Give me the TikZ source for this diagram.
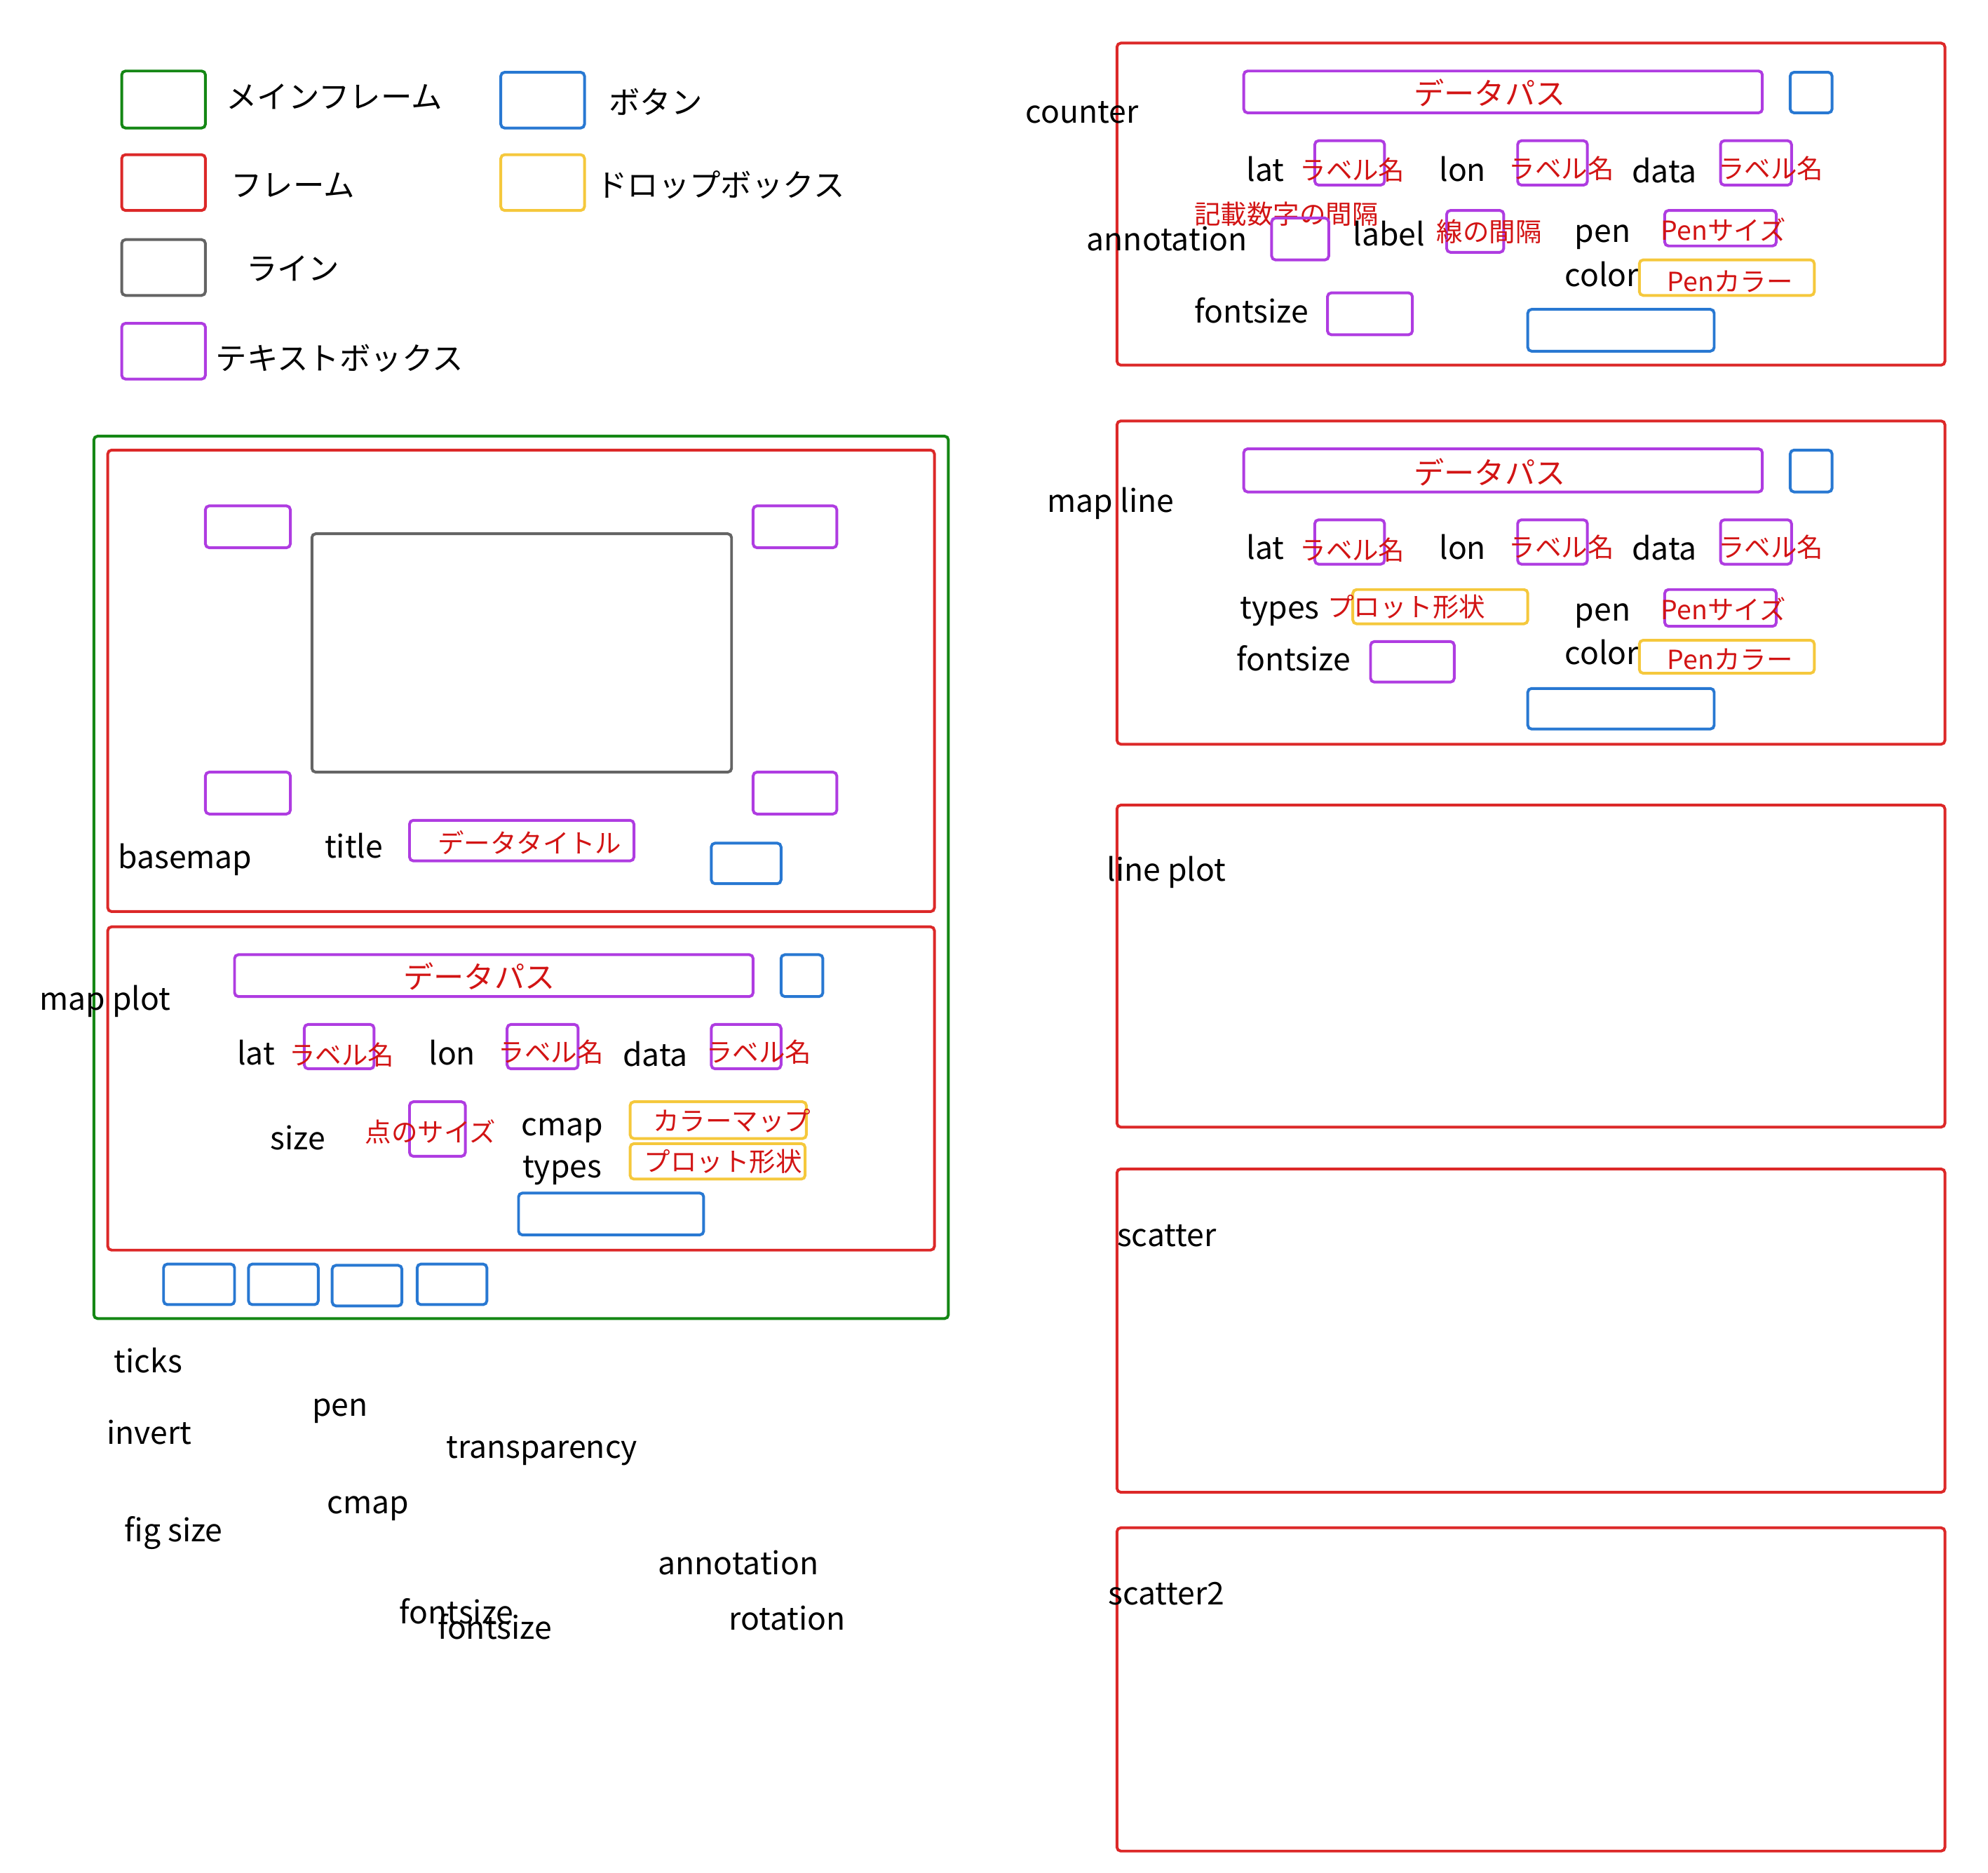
\documentclass[tikz,border=0pt]{standalone}
\usepackage{fontspec}
\setmainfont{Noto Sans CJK JP}
\definecolor{cgreen}{RGB}{20,135,20}
\definecolor{cred}{RGB}{220,40,40}
\definecolor{cblue}{RGB}{40,120,210}
\definecolor{cyellow}{RGB}{245,200,60}
\definecolor{cpurple}{RGB}{175,60,225}
\definecolor{cgray}{RGB}{100,100,100}
\definecolor{credtext}{RGB}{210,20,20}
\tikzset{
  boxbase/.style={draw, rounded corners=1.5mm, inner sep=0pt, line width=1.1mm},
  gbox/.style={boxbase, draw=cgreen},
  rbox/.style={boxbase, draw=cred},
  bbox/.style={boxbase, draw=cblue},
  ybox/.style={boxbase, draw=cyellow},
  pbox/.style={boxbase, draw=cpurple},
  kbox/.style={boxbase, draw=cgray},
  lbl/.style={anchor=mid west, inner sep=0pt, yshift=-3.5mm, font=\fontsize{35}{38}\selectfont},
  leg/.style={anchor=west, inner sep=0pt, yshift=-3.5mm, text height=0.88em, text depth=0.12em, font=\fontsize{35}{37}\selectfont},
  jr/.style={anchor=west, inner sep=0pt, yshift=-3.5mm, text height=0.88em, text depth=0.12em, text=credtext, font=\fontsize{29.5}{32}\selectfont},
  jrbig/.style={anchor=center, inner sep=0pt, yshift=-3.5mm, text height=0.88em, text depth=0.12em, text=credtext, font=\fontsize{34}{36}\selectfont},
}
\newcommand{\bx}[6]{\node[#1, minimum width={(#5-#3)*0.5mm}, minimum height={(#6-#4)*0.5mm}] (#2) at ({(#3+#5)/2},{(#4+#6)/2}) {};}
\begin{document}
\begin{tikzpicture}[x=0.5mm, y=-0.5mm]
\useasboundingbox[fill=white] (0,0) rectangle (1568,1477);
% legend
\bx{gbox}{lg}{96}{56}{162}{101}
\node[leg] (lgt) at (178,76) {メインフレーム};
\bx{bbox}{lb}{395}{57}{461}{101}
\node[leg] (lbt) at (480,80) {ボタン};
\bx{rbox}{lr}{96}{122}{162}{166}
\node[leg] (lrt) at (182,145.5) {フレーム};
\bx{ybox}{ly}{395}{122}{461}{166}
\node[leg] (lyt) at (470,145.5) {ドロップボックス};
\bx{kbox}{lk}{96}{189}{162}{233}
\node[leg] (lkt) at (194,211.5) {ライン};
\bx{pbox}{lp}{96}{255}{162}{299}
\node[leg] (lpt) at (170,282) {テキストボックス};
% main frame
\bx{gbox}{main}{74}{344}{748}{1040}
% basemap frame
\bx{rbox}{bm}{85}{355}{737}{719}
\bx{pbox}{bm1}{162}{399}{229}{432}
\bx{pbox}{bm2}{594}{399}{660}{432}
\bx{pbox}{bm3}{162}{609}{229}{642}
\bx{pbox}{bm4}{594}{609}{660}{642}
\bx{kbox}{bmmap}{246}{421}{577}{609}
\node[lbl] (bmt) at (93,676) {basemap};
\node[lbl] (tit) at (256,668) {title};
\bx{pbox}{titbox}{323}{647}{500}{679}
\node[jr] (titj) at (345,663) {データタイトル};
\bx{bbox}{bmbtn}{561}{665}{616}{697}
% map plot frame
\bx{rbox}{mp}{85}{731}{737}{986}
\node[lbl] (mpt) at (31,788) {map plot};
\bx{pbox}{mpdp}{185}{753}{594}{786}
\node[jrbig] (mpdpt) at (378,770) {データパス};
\bx{bbox}{mpdpb}{616}{753}{649}{786}
\node[lbl] (mplat) at (187,831) {lat};
\bx{pbox}{mplatb}{240}{808}{295}{843}
\node[jr] (mplatj) at (228,830) {ラベル名};
\node[lbl] (mplon) at (338,831) {lon};
\bx{pbox}{mplonb}{400}{808}{456}{843}
\node[jr] (mplonj) at (393,828) {ラベル名};
\node[lbl] (mpdata) at (491,832) {data};
\bx{pbox}{mpdatab}{561}{808}{616}{843}
\node[jr] (mpdataj) at (557,828) {ラベル名};
\node[lbl] (mpsize) at (213,898) {size};
\bx{pbox}{mpsizeb}{323}{869}{367}{912}
\node[jr] (mpsizej) at (288,891) {点のサイズ};
\node[lbl] (mpcmap) at (411,887) {cmap};
\bx{ybox}{mpcmapb}{497}{869}{636}{898}
\node[jr] (mpcmapj) at (515,882) {カラーマップ};
\node[lbl] (mptypes) at (412,920) {types};
\bx{ybox}{mptypesb}{497}{902}{635}{930}
\node[jr] (mptypesj) at (508,914) {プロット形状};
\bx{bbox}{mpbtn}{409}{941}{555}{974}
% bottom buttons
\bx{bbox}{b1}{129}{997}{185}{1029}
\bx{bbox}{b2}{196}{997}{251}{1029}
\bx{bbox}{b3}{262}{998}{317}{1030}
\bx{bbox}{b4}{329}{997}{384}{1029}
% loose labels
\node[lbl] (x1) at (90,1074) {ticks};
\node[lbl] (x2) at (246,1108) {pen};
\node[lbl] (x3) at (84,1130) {invert};
\node[lbl] (x4) at (352,1141) {transparency};
\node[lbl] (x5) at (258,1185) {cmap};
\node[lbl] (x6) at (98,1207) {fig size};
\node[lbl] (x7) at (519,1233) {annotation};
\node[lbl] (x8) at (315,1272) {fontsize};
\node[lbl] (x9) at (345,1284) {fontsize};
\node[lbl] (x10) at (575,1277) {rotation};
% counter frame
\bx{rbox}{cf}{881}{34}{1534}{288}
\node[lbl] (cft) at (809,88) {counter};
\bx{pbox}{cfdp}{981}{56}{1390}{89}
\node[jrbig] (cfdpt) at (1175,73) {データパス};
\bx{bbox}{cfdpb}{1412}{57}{1445}{89}
\node[lbl] (cflat) at (983,134) {lat};
\bx{pbox}{cflatb}{1037}{111}{1092}{146}
\node[jr] (cflatj) at (1025,132) {ラベル名};
\node[lbl] (cflon) at (1135,134) {lon};
\bx{pbox}{cflonb}{1197}{111}{1252}{146}
\node[jr] (cflonj) at (1190,131) {ラベル名};
\node[lbl] (cfdata) at (1287,135) {data};
\bx{pbox}{cfdatab}{1357}{111}{1413}{146}
\node[jr] (cfdataj) at (1355,131) {ラベル名};
\node[jr] (cfnum) at (942,167) {記載数字の間隔};
\node[lbl] (cfann) at (857,189) {annotation};
\bx{pbox}{cfannb}{1003}{172}{1048}{205}
\node[lbl] (cflab) at (1067,185) {label};
\bx{pbox}{cflabb}{1141}{166}{1186}{199}
\node[jr] (cflabj) at (1133,181) {線の間隔};
\node[lbl] (cfpen) at (1242,182) {pen};
\bx{pbox}{cfpenb}{1313}{166}{1401}{194}
\node[jr] (cfpenj) at (1310,180) {Penサイズ};
\node[lbl] (cfcol) at (1234,217) {color};
\bx{ybox}{cfcolb}{1293}{205}{1431}{233}
\node[jr] (cfcolj) at (1315,220) {Penカラー};
\node[lbl] (cffs) at (942,246) {fontsize};
\bx{pbox}{cffsb}{1047}{231}{1114}{264}
\bx{bbox}{cfbtn}{1205}{244}{1352}{277}
% map line frame
\bx{rbox}{ml}{881}{332}{1534}{587}
\node[lbl] (mlt) at (826,395) {map line};
\bx{pbox}{mldp}{981}{354}{1390}{388}
\node[jrbig] (mldpt) at (1175,372) {データパス};
\bx{bbox}{mldpb}{1412}{355}{1445}{388}
\node[lbl] (mllat) at (983,432) {lat};
\bx{pbox}{mllatb}{1037}{410}{1092}{445}
\node[jr] (mllatj) at (1025,432) {ラベル名};
\node[lbl] (mllon) at (1135,432) {lon};
\bx{pbox}{mllonb}{1197}{410}{1252}{445}
\node[jr] (mllonj) at (1190,430) {ラベル名};
\node[lbl] (mldata) at (1287,433) {data};
\bx{pbox}{mldatab}{1357}{410}{1413}{445}
\node[jr] (mldataj) at (1355,430) {ラベル名};
\node[lbl] (mltypes) at (978,479) {types};
\bx{ybox}{mltypesb}{1067}{465}{1205}{492}
\node[jr] (mltypesj) at (1047,477) {プロット形状};
\node[lbl] (mlpen) at (1242,481) {pen};
\bx{pbox}{mlpenb}{1313}{465}{1401}{494}
\node[jr] (mlpenj) at (1310,479) {Penサイズ};
\node[lbl] (mlfs) at (975,520) {fontsize};
\bx{pbox}{mlfsb}{1081}{506}{1147}{538}
\node[lbl] (mlcol) at (1234,515) {color};
\bx{ybox}{mlcolb}{1293}{505}{1431}{531}
\node[jr] (mlcolj) at (1315,518) {Penカラー};
\bx{bbox}{mlbtn}{1205}{543}{1352}{575}
% empty frames
\bx{rbox}{lp}{881}{635}{1534}{889}
\node[lbl] (lpt) at (873,686) {line plot};
\bx{rbox}{sc}{881}{922}{1534}{1177}
\node[lbl] (sct) at (881,974) {scatter};
\bx{rbox}{sc2}{881}{1205}{1534}{1460}
\node[lbl] (sc2t) at (874,1257) {scatter2};
\end{tikzpicture}
\end{document}
